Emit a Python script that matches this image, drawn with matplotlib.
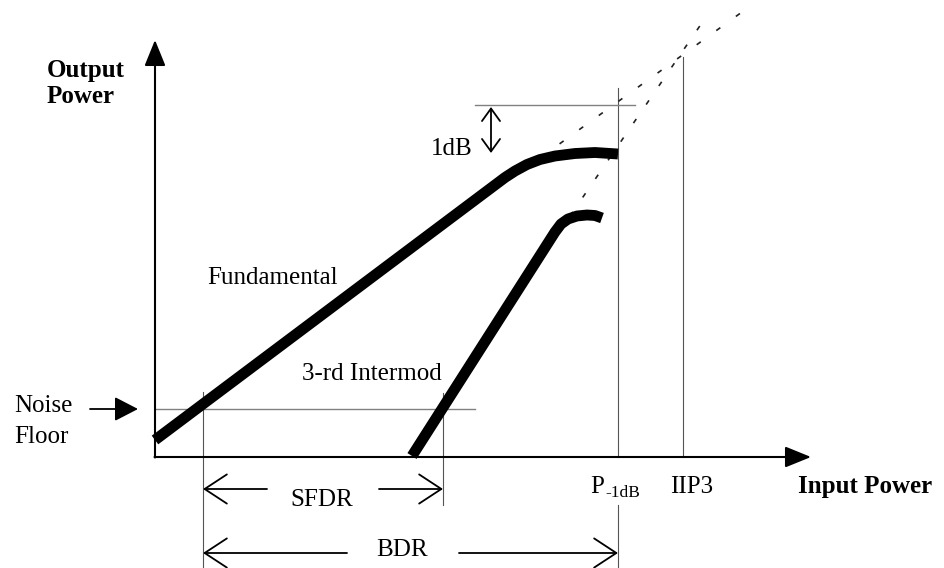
import matplotlib.pyplot as plt
import numpy as np

# schematic units: 1 unit = 10 px, origin at the axes corner
fund_x = [0, 35.0, 36.0, 37.2, 38.5, 40.0, 42.0, 44.0, 46.3]
fund_y = [1.7, 27.95, 28.6, 29.25, 29.75, 30.1, 30.35, 30.45, 30.3]
im3_x = [25.7, 40.0, 40.6, 41.3, 42.2, 43.2, 44.0, 44.7]
im3_y = [0.1, 22.5, 23.3, 23.8, 24.1, 24.2, 24.15, 23.9]
fund_ext_x = [38.5, 58.7]
fund_ext_y = [29.9, 44.5]
im3_ext_x = [41.5, 55.3]
im3_ext_y = [24.1, 44.3]

noise_floor = 4.8
sfdr_lo, sfdr_hi = 4.8, 28.8
p1db = 46.3
iip3 = 52.8
ref_1db = 35.2
comp_level = 30.4

plt.rcParams['font.family'] = ['Liberation Serif', 'DejaVu Serif']

fig = plt.figure(figsize=(9.45, 5.68), dpi=100)
ax = fig.add_axes([0, 0, 1, 1])
ax.set_xlim(-15.5, 79.0)
ax.set_ylim(-11.1, 45.7)
ax.axis('off')

thin = dict(color='#555555', lw=0.8)
gray = dict(color='#808080', lw=1.0)

# axes with filled arrow heads
ax.annotate('', xy=(0, 41.7), xytext=(0, -0.05),
            arrowprops=dict(arrowstyle='-|>,head_length=1.6,head_width=0.65',
                            color='black', lw=1.5, shrinkA=0, shrinkB=0, mutation_scale=10))
ax.annotate('', xy=(65.6, 0), xytext=(-0.05, 0),
            arrowprops=dict(arrowstyle='-|>,head_length=1.6,head_width=0.65',
                            color='black', lw=1.5, shrinkA=0, shrinkB=0, mutation_scale=10))

# reference lines
ax.plot([0, 32.0], [noise_floor, noise_floor], **gray)
ax.plot([sfdr_lo, sfdr_lo], [6.5, -11.1], **thin)
ax.plot([sfdr_hi, sfdr_hi], [6.4, -4.8], **thin)
ax.plot([p1db, p1db], [36.9, 0], **thin)
ax.plot([p1db, p1db], [-4.8, -11.1], **thin)
ax.plot([iip3, iip3], [40.0, 0], **thin)
ax.plot([32.0, 48.0], [ref_1db, ref_1db], **gray)

# dotted extrapolations
ax.plot(fund_ext_x, fund_ext_y, color='#222222', lw=1.2, linestyle=(0, (3, 11.5)))
ax.plot(im3_ext_x, im3_ext_y, color='#222222', lw=1.2, linestyle=(0, (3, 10.5)))

# main curves
ax.plot(fund_x, fund_y, color='black', lw=7.8, solid_capstyle='butt', solid_joinstyle='round')
ax.plot(im3_x, im3_y, color='black', lw=7.8, solid_capstyle='butt', solid_joinstyle='round')

# 1dB arrow
ax.annotate('', xy=(33.6, ref_1db - 0.2), xytext=(33.6, comp_level),
            arrowprops=dict(arrowstyle='<->,head_length=0.9,head_width=0.65',
                            color='black', lw=1.3, shrinkA=0, shrinkB=0, mutation_scale=10))

# dimension arrows
open_head = dict(arrowstyle='->,head_length=1.6,head_width=1.05', color='black', lw=1.3,
                 shrinkA=0, shrinkB=0, mutation_scale=10)
ax.annotate('', xy=(sfdr_lo, -3.2), xytext=(11.2, -3.2), arrowprops=open_head)
ax.annotate('', xy=(sfdr_hi, -3.2), xytext=(22.4, -3.2), arrowprops=open_head)
ax.annotate('', xy=(sfdr_lo, -9.6), xytext=(19.2, -9.6), arrowprops=open_head)
ax.annotate('', xy=(p1db, -9.6), xytext=(30.4, -9.6), arrowprops=open_head)

# noise floor pointer
ax.annotate('', xy=(-1.7, noise_floor), xytext=(-6.5, noise_floor),
            arrowprops=dict(arrowstyle='-|>,head_length=1.45,head_width=0.75',
                            color='black', lw=1.3, shrinkA=0, shrinkB=0, mutation_scale=10))

fs = 18
ax.text(-10.8, 38.0, 'Output', fontsize=fs, fontweight='bold', va='baseline')
ax.text(-10.8, 35.4, 'Power', fontsize=fs, fontweight='bold', va='baseline')
ax.text(-14.1, 4.5, 'Noise', fontsize=fs, va='baseline')
ax.text(-14.1, 1.4, 'Floor', fontsize=fs, va='baseline')
ax.text(5.2, 17.3, 'Fundamental', fontsize=fs, va='baseline')
ax.text(14.7, 7.7, '3-rd Intermod', fontsize=fs, va='baseline')
ax.text(31.8, 30.2, '1dB', fontsize=fs, va='baseline', ha='right')
ax.text(16.7, -4.9, 'SFDR', fontsize=fs, va='baseline', ha='center')
ax.text(24.7, -9.9, 'BDR', fontsize=fs, va='baseline', ha='center')
ax.text(43.5, -3.6, 'P', fontsize=fs, va='baseline')
ax.text(45.0, -4.0, '-1dB', fontsize=12.5, va='baseline')
ax.text(51.5, -3.6, 'IIP3', fontsize=fs, va='baseline')
ax.text(64.3, -3.6, 'Input Power', fontsize=fs, fontweight='bold', va='baseline')

fig.savefig('out.png', dpi=100)
